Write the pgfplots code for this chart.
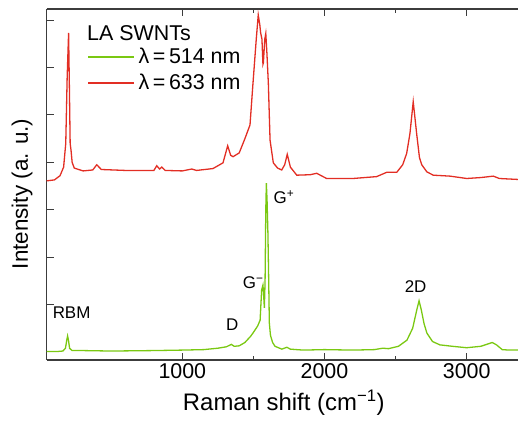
\documentclass[border=0pt]{standalone}
\usepackage{fontspec}
\setmainfont{Liberation Sans}
\usepackage{pgfplots}
\pgfplotsset{compat=1.18}
\usetikzlibrary{calc}

\definecolor{specred}{RGB}{226,46,36}
\definecolor{specgreen}{RGB}{122,200,18}
\definecolor{axgray}{RGB}{60,60,60}

\begin{document}
\begin{tikzpicture}
\begin{axis}[
  name=ax,
  scale only axis, width=471.3bp, height=351bp,
  xmin=46, xmax=3361, ymin=-0.169, ymax=7.236,
  axis y line*=left,
  axis line style={axgray, line width=1.1bp},
  every tick/.style={axgray, line width=1bp},
  tick align=inside,
  major tick length=7bp, minor tick length=4bp,
  xtick={1000,2000,3000}, minor x tick num=1,
  ytick={0,1,...,7}, yticklabels={},
  /pgf/number format/assume math mode=true,
  /pgf/number format/1000 sep={},
  tick label style={font=\fontsize{21.5}{25}\selectfont},
  label style={font=\fontsize{24}{28}\selectfont},
  xlabel={Raman shift (cm\textsuperscript{−1})},
  ylabel={Intensity (a. u.)},
  xlabel style={at={(axis description cs:0.503,-0.122)}, anchor=center},
  ylabel style={at={(axis description cs:-0.052,0.473)}, anchor=center,
    font=\fontsize{22.5}{26}\selectfont},
  legend style={at={(axis description cs:0.0855,0.826)}, anchor=west,
    draw=none, fill=none, inner sep=0pt, row sep=6bp,
    font=\fontsize{21.5}{25}\selectfont,
    nodes={inner sep=1bp, text height=15bp, text depth=3bp}},
  legend cell align=left,
  legend image code/.code={
    \draw[#1, line width=1.7bp] (0bp,0bp) -- (46bp,0bp);
    \path (49bp,0bp);},
]
\addplot[color=specgreen, line width=1.3bp] coordinates {
  (46,0.01) (120,0.01) (160,0.02) (178,0.08) (187,0.25) (193,0.34) (199,0.25)
  (207,0.08) (224,0.03) (300,0.03) (500,0.02) (800,0.03) (1000,0.04)
  (1150,0.05) (1250,0.08) (1310,0.11) (1345,0.16) (1365,0.12) (1400,0.13)
  (1440,0.2) (1480,0.33) (1497,0.40) (1530,0.55) (1547,0.67) (1558,1.31)
  (1567,1.41) (1572,1.2) (1577,0.93) (1582,1.5) (1587,3.0) (1591,3.56)
  (1596,3.2) (1602,2.5) (1607,1.6) (1612,0.61) (1620,0.35) (1635,0.2)
  (1652,0.12) (1700,0.06) (1735,0.1) (1760,0.06) (1850,0.04) (2000,0.05)
  (2200,0.04) (2350,0.05) (2410,0.08) (2450,0.07) (2520,0.12) (2580,0.25)
  (2620,0.5) (2650,0.9) (2665,1.08) (2680,0.9) (2700,0.6) (2720,0.4)
  (2760,0.22) (2812,0.15) (2900,0.12) (3000,0.09) (3100,0.12) (3150,0.17)
  (3180,0.2) (3210,0.15) (3250,0.05) (3300,0.04) (3361,0.04)
};
\addlegendentry{λ\,=\,514 nm}
\addplot[color=specred, line width=1.3bp] coordinates {
  (46,3.61) (100,3.63) (140,3.72) (165,3.9) (180,4.4) (190,5.8) (200,6.73)
  (206,5.5) (211,4.4) (217,4.26) (225,4.0) (240,3.88) (302,3.82) (370,3.84)
  (398,3.95) (430,3.85) (600,3.83) (800,3.83) (820,3.93) (840,3.86)
  (855,3.9) (880,3.83) (1000,3.82) (1066,3.86) (1100,3.83) (1216,3.87)
  (1286,3.99) (1319,4.35) (1340,4.15) (1357,4.12) (1400,4.2) (1440,4.5)
  (1476,4.79) (1497,5.67) (1520,6.6) (1534,7.11) (1545,6.9) (1551,6.73)
  (1560,6.6) (1567,6.07) (1570,6.1) (1580,6.6) (1587,6.72) (1595,6.3)
  (1605,5.67) (1617,4.47) (1640,3.99) (1670,3.88) (1699,3.84) (1720,3.95)
  (1738,4.17) (1760,3.9) (1805,3.73) (1900,3.74) (1945,3.77) (2015,3.66)
  (2200,3.66) (2367,3.70) (2437,3.79) (2508,3.79) (2550,3.95) (2578,4.19)
  (2601,4.61) (2624,5.28) (2648,4.61) (2668,4.1) (2684,3.95) (2720,3.8)
  (2765,3.73) (2883,3.71) (3000,3.66) (3100,3.68) (3187,3.71) (3230,3.66)
  (3361,3.64)
};
\addlegendentry{λ\,=\,633 nm}
% title of the legend and peak names
\node[font=\fontsize{21.5}{25}\selectfont, anchor=west, inner sep=0pt]
  at (axis description cs:0.0855,0.931) {LA SWNTs};
\node[font=\fontsize{17}{20}\selectfont] at (axis cs:221,0.83) {RBM};
\node[font=\fontsize{17}{20}\selectfont] at (axis cs:1351,0.57) {D};
\node[font=\fontsize{17}{20}\selectfont] at (axis cs:1498,1.46) {G\textsuperscript{−}};
\node[font=\fontsize{17}{20}\selectfont] at (axis cs:1715,3.27) {G\textsuperscript{+}};
\node[font=\fontsize{17}{20}\selectfont] at (axis cs:2641,1.38) {2D};
\end{axis}
\pgfresetboundingbox
\useasboundingbox ($(ax.south west)+(-46.7bp,-63bp)$) rectangle ($(ax.north east)+(0bp,9bp)$);
\end{tikzpicture}
\end{document}
